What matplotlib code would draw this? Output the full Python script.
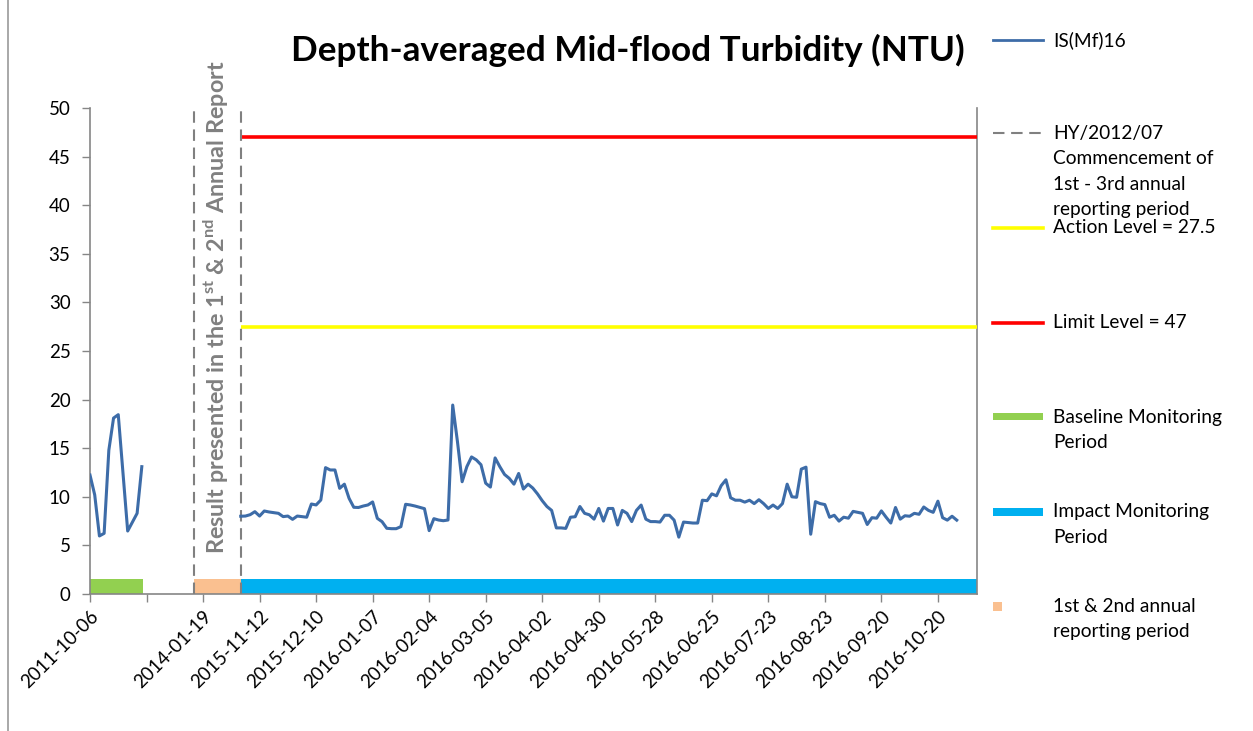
import matplotlib
matplotlib.use('Agg')
import matplotlib.pyplot as plt
import numpy as np
from matplotlib.lines import Line2D
from matplotlib.patches import Rectangle

plt.rcParams['font.family'] = ['Lato', 'DejaVu Sans']
plt.rcParams['mathtext.fontset'] = 'custom'
plt.rcParams['mathtext.rm'] = 'Lato'
plt.rcParams['mathtext.bf'] = 'Lato:bold'

# ---------------- data ----------------
title = "Depth-averaged Mid-flood Turbidity (NTU)"
series_name = "IS(Mf)16"

# baseline monitoring (category index, NTU)
baseline_pos = [0, 1, 2, 3, 4, 5, 6, 8, 10, 11]
baseline_vals = [12.24, 10.2, 5.97, 6.24, 14.8, 18.1, 18.45, 6.48, 8.3, 13.1]

# impact monitoring values (consecutive categories from impact_start)
impact_start = 32
impact_vals = [
    8.0, 8.02, 8.16, 8.47, 8.02, 8.54, 8.44, 8.37, 8.3, 7.96, 8.02, 7.68, 8.02, 7.96, 7.9,
    9.26, 9.16, 9.67, 13.0, 12.76, 12.76, 10.87, 11.3, 9.84, 8.92, 8.9, 9.05, 9.16, 9.47,
    7.78, 7.44, 6.76, 6.72, 6.72, 6.93, 9.23, 9.16, 9.05, 8.92, 8.78, 6.52, 7.75, 7.61,
    7.54, 7.61, 19.44,
    15.7, 11.55, 13.1, 14.1, 13.8, 13.3, 11.4, 11.0, 14.0, 13.1, 12.3, 11.9, 11.3, 12.4,
    10.8, 11.3,
    10.9, 10.3, 9.6, 9.0, 8.6, 6.8, 6.8, 6.75, 7.9, 7.95, 9.0, 8.3, 8.15, 7.7, 8.8, 7.5,
    8.8, 8.8, 7.1, 8.6, 8.3, 7.45, 8.6, 9.15, 7.7, 7.45, 7.45, 7.4, 8.1, 8.1, 7.6,
    5.85, 7.4, 7.35, 7.3, 7.3, 9.65, 9.6, 10.3, 10.1, 11.15, 11.75, 9.9, 9.65, 9.65, 9.45,
    9.65, 9.3, 9.7, 9.3, 8.8, 9.15, 8.8, 9.3, 11.3, 10.0, 9.95, 12.85, 13.05, 6.15, 9.5,
    9.3, 9.2, 7.9, 8.1, 7.5, 7.9, 7.8, 8.5, 8.4, 8.3, 7.15, 7.85, 7.8, 8.55, 7.9, 7.3,
    8.9, 7.7, 8.05, 8.0, 8.3, 8.2, 8.95, 8.6, 8.4, 9.55, 7.85, 7.6, 8.0, 7.6,
]

action_level = 27.5
limit_level = 47

# period spans in category units
baseline_span = (0, 11.25)
report_span = (22, 32)
impact_span = (32, 188.3)
period_bar_height = 1.5

axis_end = 188.3
tick_step = 12
tick_labels = ["2011-10-06", "", "2014-01-19", "2015-11-12", "2015-12-10", "2016-01-07",
               "2016-02-04", "2016-03-05", "2016-04-02", "2016-04-30", "2016-05-28",
               "2016-06-25", "2016-07-23", "2016-08-23", "2016-09-20", "2016-10-20"]

legend_labels = [
    series_name,
    "HY/2012/07\nCommencement of\n1st - 3rd annual\nreporting period",
    "Action Level = 27.5",
    "Limit Level = 47",
    "Baseline Monitoring\nPeriod",
    "Impact Monitoring\nPeriod",
    "1st & 2nd annual\nreporting period",
]

# ---------------- colours ----------------
c_series = '#3D6CA8'
c_green = '#92D050'
c_peach = '#FAC090'
c_blue = '#00B0F0'
c_yellow = '#FFFF00'
c_red = '#FF0000'
c_dash = '#808080'
c_axis = '#868686'

W, H = 1253, 731
fig = plt.figure(figsize=(W / 100, H / 100), dpi=100)

def fx(px):
    return px / W

def fy(py):
    return 1 - py / H

ax = fig.add_axes([fx(90), fy(594), fx(977) - fx(90), fy(108) - fy(594)])

# period bars
for span, col in [(baseline_span, c_green), (report_span, c_peach), (impact_span, c_blue)]:
    ax.add_patch(Rectangle((span[0], 0), span[1] - span[0], period_bar_height,
                           facecolor=col, edgecolor='none', zorder=2))

# levels
ax.plot([impact_span[0], axis_end], [limit_level, limit_level], color=c_red, lw=2.6, zorder=3,
        solid_capstyle='butt')
ax.plot([impact_span[0], axis_end], [action_level, action_level], color=c_yellow, lw=2.6, zorder=3,
        solid_capstyle='butt')

# dashed separators
for xv in [report_span[0], report_span[1]]:
    ax.plot([xv, xv], [0, 50], color=c_dash, lw=1.5, dashes=(5.5, 3.2), zorder=3)

# series
ax.plot(baseline_pos, baseline_vals, color=c_series, lw=2.2, zorder=4, solid_joinstyle='round')
impact_x = impact_start + np.arange(len(impact_vals))
ax.plot(impact_x, impact_vals, color=c_series, lw=2.2, zorder=4, solid_joinstyle='round')

ax.set_xlim(0, axis_end)
ax.set_ylim(0, 50)
ax.set_yticks(np.arange(0, 51, 5))
ax.tick_params(axis='y', length=6, width=1, color=c_axis, pad=8, labelsize=13.5)
ticks = np.arange(len(tick_labels)) * tick_step
ax.set_xticks(ticks)
ax.set_xticklabels(tick_labels, rotation=45, ha='right', va='top', rotation_mode='anchor',
                   fontsize=13.5)
ax.tick_params(axis='x', length=6, width=1, color=c_axis, pad=4)

for s in ['left', 'bottom', 'right']:
    ax.spines[s].set_color(c_axis)
    ax.spines[s].set_linewidth(1.2)
ax.spines['top'].set_visible(False)

# rotated annotation
ax.text((report_span[0] + report_span[1]) / 2 - 0.3, 54.9,
        r"Result presented in the 1$^{\mathbf{st}}$ & 2$^{\mathbf{nd}}$ Annual Report",
        rotation=90, ha='center', va='top', color='#808080', fontsize=16.8, fontweight='bold',
        clip_on=False, zorder=5)

# title
fig.text(fx(628), fy(50), title, ha='center', va='center', fontsize=25.3, fontweight='bold')

# ---------------- manual legend ----------------
leg_y = [40, 133, 228, 323, 417, 512, 606]
lx0, lx1, tx = 993, 1043, 1053
line_h = 25.5
styles = [
    dict(kind='line', color=c_series, lw=2.0, dashes=None),
    dict(kind='line', color=c_dash, lw=1.5, dashes=(5.5, 3.2)),
    dict(kind='line', color=c_yellow, lw=2.6, dashes=None),
    dict(kind='line', color=c_red, lw=2.6, dashes=None),
    dict(kind='bar', color=c_green, h=7),
    dict(kind='bar', color=c_blue, h=8),
    dict(kind='square', color=c_peach, h=9),
]
for y, lab, st in zip(leg_y, legend_labels, styles):
    if st['kind'] == 'line':
        ln = Line2D([fx(lx0), fx(lx1)], [fy(y), fy(y)], transform=fig.transFigure,
                    color=st['color'], lw=st['lw'])
        if st['dashes']:
            ln.set_dashes(st['dashes'])
        fig.add_artist(ln)
    elif st['kind'] == 'bar':
        fig.add_artist(Rectangle((fx(lx0), fy(y + st['h'] / 2)), fx(lx1) - fx(lx0),
                                 st['h'] / H, transform=fig.transFigure,
                                 facecolor=st['color'], edgecolor='none'))
    else:
        fig.add_artist(Rectangle((fx(lx0), fy(y + st['h'] / 2)), st['h'] / W,
                                 st['h'] / H, transform=fig.transFigure,
                                 facecolor=st['color'], edgecolor='none'))
    for i, part in enumerate(lab.split('\n')):
        fig.text(fx(tx), fy(y + i * line_h), part, ha='left', va='center', fontsize=13.8)

# chart border
fig.add_artist(Line2D([fx(8), fx(8)], [0, 1], transform=fig.transFigure, color='#999999', lw=1.2))

fig.savefig('out.png', dpi=100)
